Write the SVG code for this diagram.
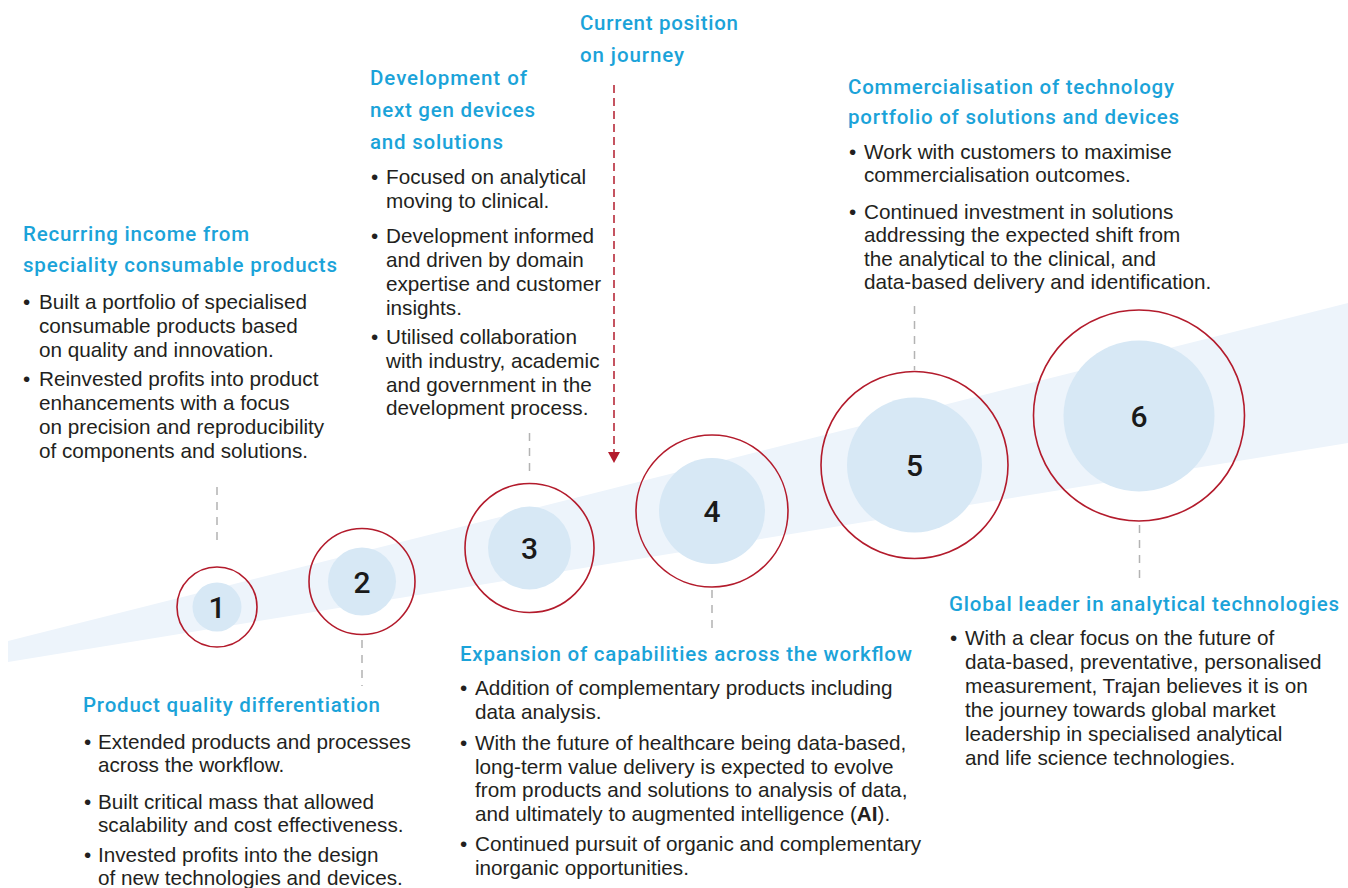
<svg xmlns="http://www.w3.org/2000/svg" width="1348" height="888" viewBox="0 0 1348 888">
<style>
.h{font-family:Roboto,"Liberation Sans",sans-serif;font-weight:500;font-size:20.5px;fill:#1ba3d9}
.b{font-family:"Liberation Sans",Arial,sans-serif;font-size:20.7px;fill:#231f20}
.n{font-family:Roboto,"Liberation Sans",sans-serif;font-weight:500;font-size:30px;fill:#1a1a1a;text-anchor:middle}
.outer{fill:none;stroke:#b31b2c;stroke-width:1.6}
.inner{fill:#d7e8f5}
.lead{stroke:#b3b3b3;stroke-width:1.5;stroke-dasharray:8 7;fill:none}
</style>
<rect width="1348" height="888" fill="#ffffff"/>
<polygon id="band" points="8,641 1348,303 1348,443 8,662" fill="#edf4fb"/>

<g id="connectors">
<line class="lead" x1="217" y1="487" x2="217" y2="547"/>
<line class="lead" x1="362" y1="640" x2="362" y2="686"/>
<line class="lead" x1="529.5" y1="433" x2="529.5" y2="477"/>
<line class="lead" x1="712" y1="590" x2="712" y2="630"/>
<line class="lead" x1="914.5" y1="306" x2="914.5" y2="370"/>
<line class="lead" x1="1139.5" y1="525" x2="1139.5" y2="584"/>
<line x1="614" y1="85" x2="614" y2="452" stroke="#b31b2c" stroke-width="1.5" stroke-dasharray="8 5"/>
<polygon points="608,452 620,452 614,463" fill="#b31b2c"/>
</g>

<g id="node1">
<circle class="inner" cx="217" cy="607" r="24.5"/>
<circle class="outer" cx="217" cy="607" r="40"/>
<text class="n" x="217" y="618">1</text>
</g>
<g id="node2">
<circle class="inner" cx="362" cy="581.5" r="34"/>
<circle class="outer" cx="362" cy="581.5" r="53"/>
<text class="n" x="362" y="592.5">2</text>
</g>
<g id="node3">
<circle class="inner" cx="529.5" cy="548" r="41.5"/>
<circle class="outer" cx="529.5" cy="548" r="64.5"/>
<text class="n" x="529.5" y="559">3</text>
</g>
<g id="node4">
<circle class="inner" cx="712" cy="511" r="53"/>
<circle class="outer" cx="712" cy="511" r="76"/>
<text class="n" x="712" y="522">4</text>
</g>
<g id="node5">
<circle class="inner" cx="914.5" cy="465" r="67.5"/>
<circle class="outer" cx="914.5" cy="465" r="93.5"/>
<text class="n" x="914.5" y="476">5</text>
</g>
<g id="node6">
<circle class="inner" cx="1139" cy="416" r="75.5"/>
<circle class="outer" cx="1139" cy="415.5" r="105.5"/>
<text class="n" x="1139" y="426.5">6</text>
</g>

<g id="text1">
<text class="h" x="23" y="241" textLength="226" lengthAdjust="spacing">Recurring income from</text>
<text class="h" x="23" y="272" textLength="314" lengthAdjust="spacing">speciality consumable products</text>
<text class="b" x="23" y="308.5">•</text>
<text class="b" x="39" y="308.5">Built a portfolio of specialised</text>
<text class="b" x="39" y="332.5">consumable products based</text>
<text class="b" x="39" y="356.5">on quality and innovation.</text>
<text class="b" x="23" y="385.5">•</text>
<text class="b" x="39" y="385.5">Reinvested profits into product</text>
<text class="b" x="39" y="409.5">enhancements with a focus</text>
<text class="b" x="39" y="433.5">on precision and reproducibility</text>
<text class="b" x="39" y="457.5">of components and solutions.</text>
</g>

<g id="text2">
<text class="h" x="83" y="712" textLength="297" lengthAdjust="spacing">Product quality differentiation</text>
<text class="b" x="84" y="748.5">•</text>
<text class="b" x="98" y="748.5">Extended products and processes</text>
<text class="b" x="98" y="772">across the workflow.</text>
<text class="b" x="84" y="808.5">•</text>
<text class="b" x="98" y="808.5">Built critical mass that allowed</text>
<text class="b" x="98" y="832">scalability and cost effectiveness.</text>
<text class="b" x="84" y="861.5">•</text>
<text class="b" x="98" y="861.5">Invested profits into the design</text>
<text class="b" x="98" y="885">of new technologies and devices.</text>
</g>

<g id="text3">
<text class="h" x="370" y="85" textLength="157" lengthAdjust="spacing">Development of</text>
<text class="h" x="370" y="117" textLength="165" lengthAdjust="spacing">next gen devices</text>
<text class="h" x="370" y="148.5" textLength="133" lengthAdjust="spacing">and solutions</text>
<text class="b" x="371" y="183.5">•</text>
<text class="b" x="386" y="183.5">Focused on analytical</text>
<text class="b" x="386" y="207.5">moving to clinical.</text>
<text class="b" x="371" y="243">•</text>
<text class="b" x="386" y="243">Development informed</text>
<text class="b" x="386" y="267">and driven by domain</text>
<text class="b" x="386" y="291">expertise and customer</text>
<text class="b" x="386" y="314.5">insights.</text>
<text class="b" x="371" y="343.5">•</text>
<text class="b" x="386" y="343.5">Utilised collaboration</text>
<text class="b" x="386" y="367.5">with industry, academic</text>
<text class="b" x="386" y="391.5">and government in the</text>
<text class="b" x="386" y="415">development process.</text>
</g>

<g id="text-current">
<text class="h" x="580" y="30" textLength="158" lengthAdjust="spacing">Current position</text>
<text class="h" x="580" y="62" textLength="104" lengthAdjust="spacing">on journey</text>
</g>

<g id="text4">
<text class="h" x="460" y="661" textLength="452" lengthAdjust="spacing">Expansion of capabilities across the workflow</text>
<text class="b" x="460" y="695">•</text>
<text class="b" x="475" y="695">Addition of complementary products including</text>
<text class="b" x="475" y="718.5">data analysis.</text>
<text class="b" x="460" y="749.5">•</text>
<text class="b" x="475" y="749.5">With the future of healthcare being data-based,</text>
<text class="b" x="475" y="773.5">long-term value delivery is expected to evolve</text>
<text class="b" x="475" y="797">from products and solutions to analysis of data,</text>
<text class="b" x="475" y="820.5">and ultimately to augmented intelligence (<tspan font-weight="bold">AI</tspan>).</text>
<text class="b" x="460" y="851">•</text>
<text class="b" x="475" y="851">Continued pursuit of organic and complementary</text>
<text class="b" x="475" y="874.5">inorganic opportunities.</text>
</g>

<g id="text5">
<text class="h" x="848" y="93.5" textLength="326" lengthAdjust="spacing">Commercialisation of technology</text>
<text class="h" x="848" y="123.5" textLength="331" lengthAdjust="spacing">portfolio of solutions and devices</text>
<text class="b" x="849" y="158.5">•</text>
<text class="b" x="864" y="158.5">Work with customers to maximise</text>
<text class="b" x="864" y="182">commercialisation outcomes.</text>
<text class="b" x="849" y="218.5">•</text>
<text class="b" x="864" y="218.5">Continued investment in solutions</text>
<text class="b" x="864" y="242">addressing the expected shift from</text>
<text class="b" x="864" y="265.5">the analytical to the clinical, and</text>
<text class="b" x="864" y="289">data-based delivery and identification.</text>
</g>

<g id="text6">
<text class="h" x="949" y="611" textLength="390" lengthAdjust="spacing">Global leader in analytical technologies</text>
<text class="b" x="950" y="645">•</text>
<text class="b" x="965" y="645">With a clear focus on the future of</text>
<text class="b" x="965" y="669">data-based, preventative, personalised</text>
<text class="b" x="965" y="693">measurement, Trajan believes it is on</text>
<text class="b" x="965" y="717">the journey towards global market</text>
<text class="b" x="965" y="741">leadership in specialised analytical</text>
<text class="b" x="965" y="765">and life science technologies.</text>
</g>
</svg>
